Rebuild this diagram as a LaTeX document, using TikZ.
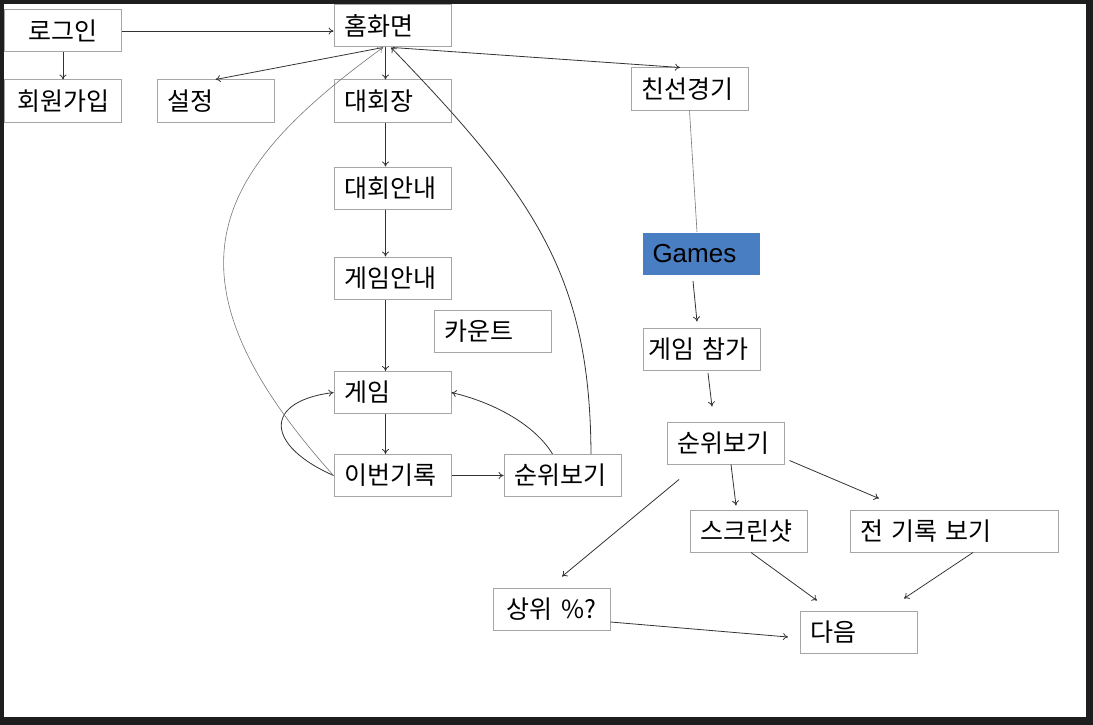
\documentclass[tikz,border=0pt]{standalone}
\usepackage{fontspec}
\setmainfont{Liberation Sans}
\newfontfamily\kr{Noto Sans CJK KR}
\usetikzlibrary{arrows.meta}
\definecolor{framedark}{HTML}{1E1E1E}
\definecolor{boxgray}{HTML}{A6A6A6}
\definecolor{gamesblue}{HTML}{4A7EC2}
\definecolor{linedark}{HTML}{333333}
\definecolor{linelight}{HTML}{777777}

\begin{document}
\begin{tikzpicture}[x=1pt,y=-1pt,>={To[length=5pt,width=7pt]},
    box/.style={draw=boxgray,line width=1pt,minimum height=42pt,text width=97pt,
      inner xsep=10pt,inner ysep=0pt,align=left,font=\kr\fontsize{25}{28}\selectfont},
    gamesbox/.style={box,draw=none,fill=gamesblue,font=\fontsize{26}{29}\selectfont},
    arr/.style={->,draw=linedark,line width=0.8pt},
    thinline/.style={draw=linelight,line width=0.6pt}]
  \fill[framedark] (0,0) rectangle (1093,725);
  \fill[white] (4,4) rectangle (1086,717);

  \node[box,align=center] (login) at (63,31) {로그인};
  \node[box,align=center,text width=107pt,inner xsep=5pt] (signup) at (63,101) {회원가입};
  \node[box] (settings) at (215.5,101) {설정};
  \node[box] (home) at (392.5,26) {홈화면};
  \node[box] (hall) at (392.5,101) {대회장};
  \node[box] (friendly) at (689.5,89) {친선경기};
  \node[box] (hallinfo) at (392.5,188) {대회안내};
  \node[box] (gameinfo) at (392.5,278) {게임안내};
  \node[box] (count) at (492.5,331) {카운트};
  \node[box] (game) at (392.5,392.5) {게임};
  \node[box] (record) at (392.5,475.5) {이번기록};
  \node[box] (rankleft) at (562.5,475.5) {순위보기};
  \node[gamesbox] (games) at (701,253.5) {Games};
  \node[box,text width=107pt,inner xsep=5pt] (join) at (702,349.5) {게임 참가};
  \node[box] (rankright) at (725.5,443) {순위보기};
  \node[box] (shot) at (748.5,531) {스크린샷};
  \node[box,text width=188pt] (history) at (954,531) {전 기록 보기};
  \node[box,align=center] (top) at (551.5,609) {상위 \%?};
  \node[box] (next) at (859,632) {다음};

  \draw[arr] (login.east) -- (login.east -| home.west);
  \draw[arr] (login.south) -- (signup.north);
  \draw[arr] ([xshift=-9.5pt]home.south) -- (settings.north);
  \draw[arr] ([xshift=-7pt]home.south) -- ([xshift=-7pt]hall.north);
  \draw[arr] (home.south) -- ([xshift=-9.5pt]friendly.north);
  \draw[arr] ([xshift=-7pt]hall.south) -- ([xshift=-7pt]hallinfo.north);
  \draw[arr] ([xshift=-7pt]hallinfo.south) -- ([xshift=-7pt]gameinfo.north);
  \draw[arr] ([xshift=-7pt]gameinfo.south) -- ([xshift=-7pt]game.north);
  \draw[arr] ([xshift=-7pt]game.south) -- ([xshift=-7pt]record.north);
  \draw[arr] (record.east) -- (rankleft.west);
  \draw[arr] (record.west) .. controls +(-68,-30) and +(-71,9) .. (game.west);
  \draw[arr] ([xshift=-10pt]rankleft.north) .. controls +(-15,-25) and +(50,12) .. (game.east);
  \draw[arr,thinline] (record.west) .. controls +(-182,-203) and +(-168,122) .. ([xshift=-9.5pt]home.south);
  \draw[arr] ([xshift=28.5pt]rankleft.north) .. controls +(-1,-175) and +(147,152) .. ([xshift=-1.5pt]home.south);

  \draw[thinline] (friendly.south) -- ([xshift=-4pt]games.north);
  \draw[arr] ([xshift=-8pt,yshift=-6pt]games.south) -- ([xshift=-5pt,yshift=6.5pt]join.north);
  \draw[arr] ([xshift=6pt,yshift=-2pt]join.south) -- ([xshift=-13.5pt,yshift=15pt]rankright.north);
  \draw[arr] ([xshift=5.5pt]rankright.south) -- ([xshift=-12.5pt,yshift=4pt]shot.north);
  \draw[arr] ([xshift=5pt,yshift=4pt]rankright.south east) -- ([xshift=-75pt,yshift=11pt]history.north);
  \draw[arr] ([xshift=-46.5pt,yshift=-15pt]rankright.south) -- ([xshift=10.5pt,yshift=11pt]top.north);
  \draw[arr] ([xshift=2.5pt]shot.south) -- ([xshift=-42pt,yshift=10pt]next.north);
  \draw[arr] ([xshift=19pt]history.south) -- ([xshift=45pt,yshift=12pt]next.north);
  \draw[arr] ([yshift=-13pt]top.east) -- ([xshift=-12pt,yshift=-5pt]next.west);
\end{tikzpicture}
\end{document}
